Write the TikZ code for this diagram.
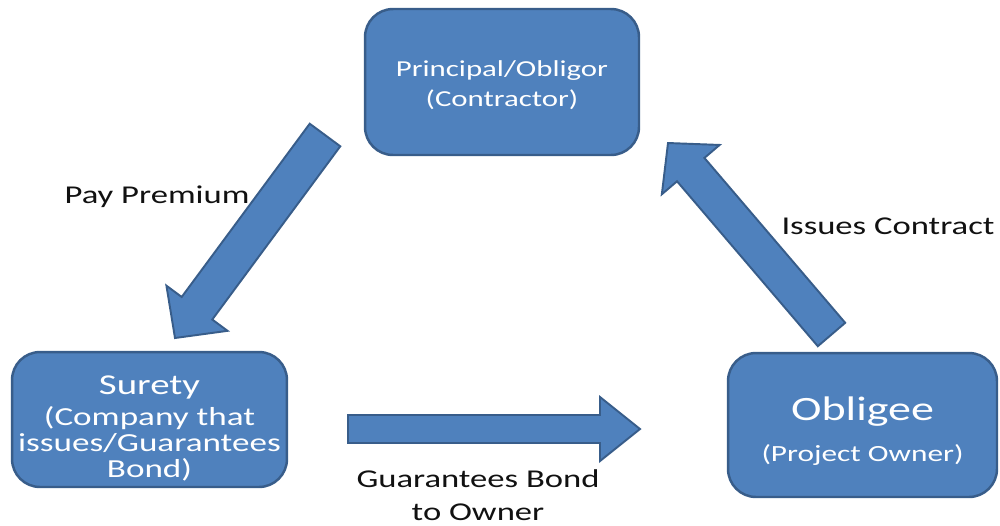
\documentclass[tikz,border=0pt]{standalone}
\usepackage{fontspec}
\setmainfont{Carlito}[FakeStretch=1.35]
\usetikzlibrary{calc}
\definecolor{boxblue}{HTML}{4F81BD}
\definecolor{edgeblue}{HTML}{385D8A}
\definecolor{ink}{HTML}{111111}

% block arrow: tail, tip, half shaft width, half head width, head length
\newcommand{\blockarrow}[5]{%
  \coordinate (neck) at ($(#2)!#5!(#1)$);
  \draw[arrowbody]
    ($(#1)!#3!90:(#2)$) -- ($(neck)!#3!-90:(#1)$) -- ($(neck)!#4!-90:(#1)$)
    -- (#2)
    -- ($(neck)!#4!90:(#1)$) -- ($(neck)!#3!90:(#1)$) -- ($(#1)!#3!-90:(#2)$)
    -- cycle;
}

\begin{document}
\begin{tikzpicture}[x=0.02cm, y=-0.02cm,
  party/.style={draw=edgeblue, fill=boxblue, line width=1.4pt, rounded corners=0.56cm,
    inner sep=0pt},
  partytext/.style={text=white, align=center, inner sep=0pt},
  arrowbody/.style={draw=edgeblue, fill=boxblue, line width=1.1pt, line join=miter},
  lbl/.style={text=ink, font=\fontsize{14.6}{18.8}\selectfont, align=center, inner sep=0pt}]
\useasboundingbox (0,0) rectangle (1000,525);

% the three parties
\node[party, minimum width=5.48cm, minimum height=2.92cm] (principal) at (502,82) {};
\node[party, minimum width=5.5cm, minimum height=2.7cm] (surety) at (149.5,419.5) {};
\node[party, minimum width=5.38cm, minimum height=2.88cm] (obligee) at (862.5,425) {};

\node[partytext, font=\fontsize{13}{17}\selectfont] (principalText)
  at ($(principal.center)+(0,3)$) {Principal/Obligor\\(Contractor)};
\node[partytext, font=\fontsize{14.8}{15}\selectfont] (suretyText)
  at ($(surety.center)+(0,9)$)
  {{\fontsize{16.4}{16.4}\selectfont Surety}\\[2.5pt](Company that\\issues/Guarantees\\Bond)};
\node[partytext, font=\fontsize{13.2}{23}\selectfont] (obligeeText)
  at ($(obligee.center)+(0,6)$)
  {{\fontsize{19.4}{23}\selectfont Obligee}\\(Project Owner)};

% arrow end points
\coordinate (payTail) at (325,135);
\coordinate (payTip) at (175,338);
\coordinate (issTail) at (831.5,334.5);
\coordinate (issTip) at (668,143);
\coordinate (bondTail) at (348,429);
\coordinate (bondTip) at (640,429);

\blockarrow{payTail}{payTip}{0.38cm}{0.76cm}{0.74cm}
\blockarrow{issTail}{issTip}{0.36cm}{0.76cm}{0.70cm}
\blockarrow{bondTail}{bondTip}{0.28cm}{0.64cm}{0.80cm}

% arrow labels
\node[lbl] (pay) at (157,197) {Pay Premium};
\node[lbl] (issues) at (888,226) {Issues Contract};
\node[lbl] (bond) at (478,495) {Guarantees Bond\\to Owner};
\end{tikzpicture}
\end{document}
